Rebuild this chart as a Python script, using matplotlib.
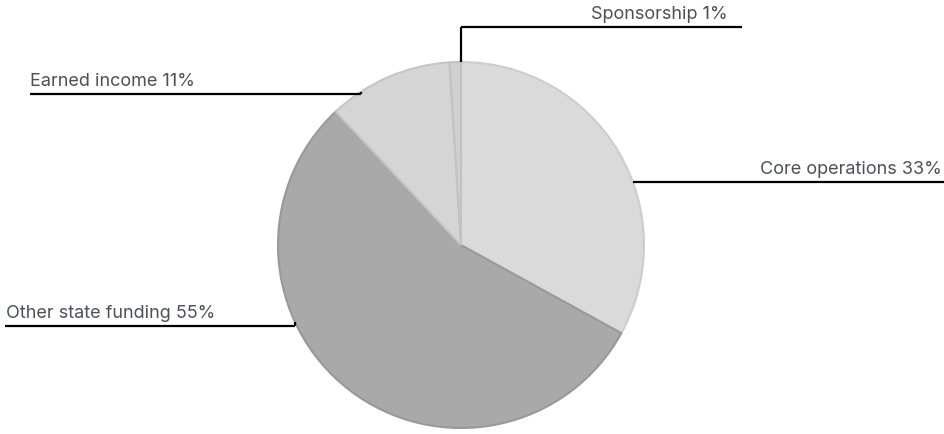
import matplotlib
matplotlib.use("Agg")
import matplotlib.pyplot as plt
import numpy as np

etiquetas = ["Core operations", "Other state funding", "Earned income", "Sponsorship"]
valores = [33, 55, 11, 1]
colores = ["#dadada", "#a9a9a9", "#d5d5d5", "#d0d0d0"]
bordes = ["#cdcdcd", "#999999", "#c6c6c6", "#c2c2c2"]

plt.rcParams['font.family'] = ['Inter', 'DejaVu Sans']

W, H = 944, 434
fig = plt.figure(figsize=(W / 100, H / 100), dpi=100)
ax = fig.add_axes([0, 0, 1, 1])

cx, cy, r = 461, H - 245, 183
cunas, _ = ax.pie(valores, colors=colores, startangle=90, counterclock=False,
                  center=(cx, cy), radius=r, frame=True,
                  wedgeprops=dict(linewidth=1.5))
for c, b in zip(cunas, bordes):
    c.set_edgecolor(b)
ax.set_xlim(0, W)
ax.set_ylim(0, H)
ax.set_aspect("equal")
ax.axis("off")

# angulo del punto de anclaje, altura de la linea horizontal, extremo de la linea
anclas = [20, 205, 123, 90]
lineas_y = [H - 182, H - 326, H - 94, H - 27]
extremos = [W, 5, 30, 742]
texto_x = [942, 6, 30, 728]
texto_col = "#4b5159"

for i, nombre in enumerate(etiquetas):
    a = np.deg2rad(anclas[i])
    px, py = cx + r * np.cos(a), cy + r * np.sin(a)
    ly = lineas_y[i]
    if abs(ly - py) > 2:
        ax.plot([px, px], [py, ly], color="black", lw=1.6, solid_capstyle="butt")
    ax.plot([px, extremos[i]], [ly, ly], color="black", lw=1.6, solid_capstyle="butt")
    txt = f"{nombre} {valores[i]}%"
    ax.text(texto_x[i], ly + 8, txt, ha="right" if extremos[i] > px else "left",
            va="baseline", fontsize=13, color=texto_col)

fig.savefig("out.png", dpi=100)
plt.close(fig)
